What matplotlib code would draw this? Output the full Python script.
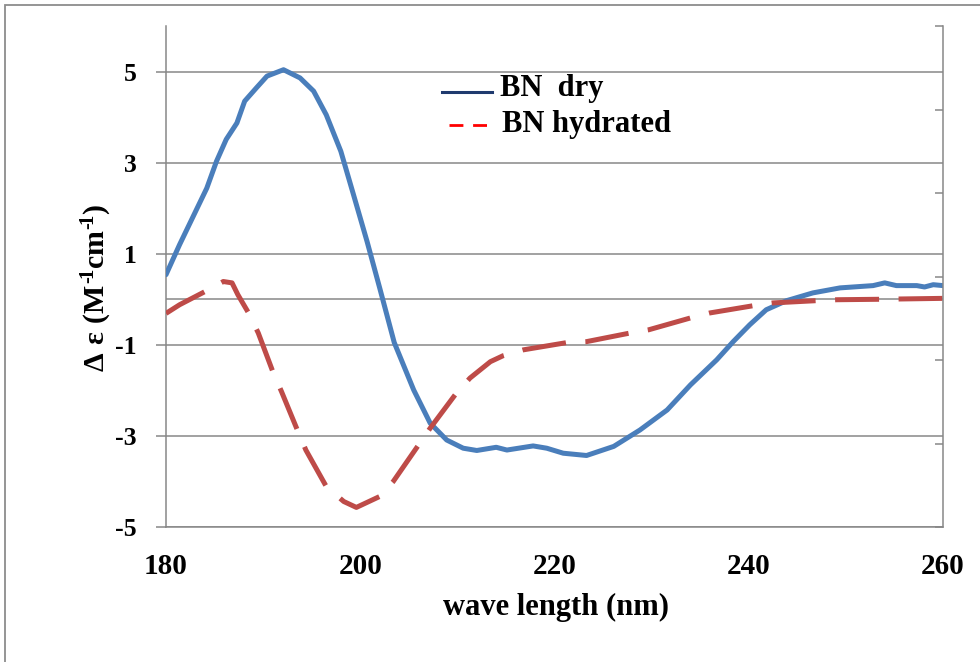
import matplotlib
matplotlib.use('Agg')
import matplotlib.pyplot as plt
from matplotlib.lines import Line2D
from matplotlib.patches import Rectangle

plt.rcParams['font.family'] = ['Liberation Serif', 'DejaVu Serif']
plt.rcParams['font.weight'] = 'bold'
plt.rcParams['axes.unicode_minus'] = False
plt.rcParams['mathtext.fontset'] = 'custom'
plt.rcParams['mathtext.rm'] = 'Liberation Serif:bold'
plt.rcParams['mathtext.it'] = 'Liberation Serif:bold'
plt.rcParams['mathtext.bf'] = 'Liberation Serif:bold'

# CD spectra
wl_dry = [180, 181.4, 182.8, 184.2, 185.2, 186.2, 187.3, 188.1, 189.3, 190.4,
          192.1, 193.8, 195.2, 196.5, 198.0, 199.3, 200.7, 202.0, 203.5, 205.5,
          207.2, 208.9, 210.6, 212.0, 214.0, 215.1, 217.8, 219.2, 220.9, 223.3,
          226.1, 228.8, 231.6, 234.0, 236.7, 238.4, 240.1, 241.8, 243.9, 246.6,
          249.4, 252.8, 254.0, 255.2, 257.3, 258.1, 259.0, 260.0]
cd_dry = [0.54, 1.20, 1.82, 2.44, 3.03, 3.51, 3.87, 4.35, 4.64, 4.90,
          5.04, 4.86, 4.57, 4.05, 3.25, 2.30, 1.27, 0.25, -0.95, -1.99,
          -2.72, -3.09, -3.27, -3.32, -3.25, -3.31, -3.22, -3.27, -3.38, -3.43,
          -3.23, -2.87, -2.43, -1.88, -1.33, -0.93, -0.56, -0.23, -0.03, 0.14,
          0.25, 0.30, 0.36, 0.30, 0.30, 0.27, 0.32, 0.30]

wl_hyd = [180, 181.4, 184.2, 185.9, 186.8, 187.4, 188.5, 189.5, 191.0, 191.9,
          193.6, 194.4, 196.5, 198.3, 199.6, 202.0, 203.4, 206.0, 207.2, 209.9,
          211.3, 213.4, 214.7, 216.8, 221.3, 223.3, 227.8, 229.7, 234.0, 236.0,
          240.5, 242.5, 247.0, 249.1, 253.5, 260.0]
cd_hyd = [-0.31, -0.12, 0.19, 0.39, 0.36, 0.10, -0.30, -0.74, -1.59, -2.03,
          -2.91, -3.31, -4.11, -4.44, -4.57, -4.33, -4.00, -3.20, -2.83, -2.06,
          -1.73, -1.37, -1.24, -1.11, -0.95, -0.93, -0.74, -0.67, -0.41, -0.30,
          -0.14, -0.08, -0.03, -0.01, 0.00, 0.02]

x_ticks = [180, 200, 220, 240, 260]
y_ticks = [-5, -3, -1, 1, 3, 5]
labels = ['BN  dry', 'BN hydrated']

grey = '#878787'

fig = plt.figure(figsize=(9.8, 6.62), dpi=100)
ax = fig.add_axes([166 / 980, 1 - 527 / 662, 777 / 980, 501 / 662])

ax.set_xlim(180, 260)
ax.set_ylim(-5, 6)
ax.set_xticks(x_ticks)
ax.set_yticks(y_ticks)
ax.grid(axis='y', color=grey, lw=1.1)
ax.axhline(0, color=grey, lw=1.1, zorder=0.5)
ax.set_axisbelow(True)

ax.plot(wl_dry, cd_dry, color='#4A7EBB', lw=3.6, solid_capstyle='round',
        solid_joinstyle='round', zorder=3)
red, = ax.plot(wl_hyd, cd_hyd, color='#BE4B48', lw=3.6, dash_joinstyle='round', zorder=3)
red.set_dashes((8.8, 3.9))

for s in ['top', 'right']:
    ax.spines[s].set_visible(False)
for s in ['left', 'bottom']:
    ax.spines[s].set_color(grey)
    ax.spines[s].set_linewidth(1.1)

ax.tick_params(axis='x', length=0, pad=19, labelsize=21)
ax.tick_params(axis='y', length=7, width=1.1, color=grey, pad=14, labelsize=18.5)

# secondary axis on the right: ticks only
ax2 = ax.twinx()
ax2.set_ylim(0, 6)
ax2.set_yticks(range(7))
ax2.set_yticklabels([])
for s in ['top', 'left', 'bottom']:
    ax2.spines[s].set_visible(False)
ax2.spines['right'].set_color(grey)
ax2.spines['right'].set_linewidth(1.1)
ax2.tick_params(axis='y', direction='in', length=6, width=1.1, color=grey)

fig.text(556 / 980, 1 - 607 / 662, 'wave length (nm)', ha='center', va='center',
         fontsize=22, fontweight='bold')
fig.text(97 / 980, 1 - 288 / 662, '$\\Delta\\ \\epsilon\\ (M^{\u2010\\!1}cm^{\u2010\\!1})$',
         rotation=90, ha='center', va='center', fontsize=21.5)

# legend drawn by hand, as in the reference
tr = ax.transAxes
ax.add_line(Line2D([(442 - 166) / 777, (492 - 166) / 777], [(527 - 92) / 501] * 2,
                   color='#1F3A6E', lw=2.2, transform=tr, clip_on=False))
leg_red = Line2D([(449 - 166) / 777, (493 - 166) / 777], [(527 - 125) / 501] * 2,
                 color='#FF0000', lw=2.0, transform=tr, clip_on=False)
leg_red.set_dashes((5, 3.5))
ax.add_line(leg_red)
ax.text((500 - 166) / 777, (527 - 96) / 501, labels[0], transform=tr,
        fontsize=22, fontweight='bold', va='baseline')
ax.text((502 - 166) / 777, (527 - 132) / 501, labels[1], transform=tr,
        fontsize=22, fontweight='bold', va='baseline')

# outer chart border
fig.add_artist(Rectangle((5 / 980, -0.5), 2, 1.5 - 5 / 662, transform=fig.transFigure,
                         fill=False, edgecolor='#8C8C8C', lw=1.3))

fig.savefig('out.png', dpi=100)
